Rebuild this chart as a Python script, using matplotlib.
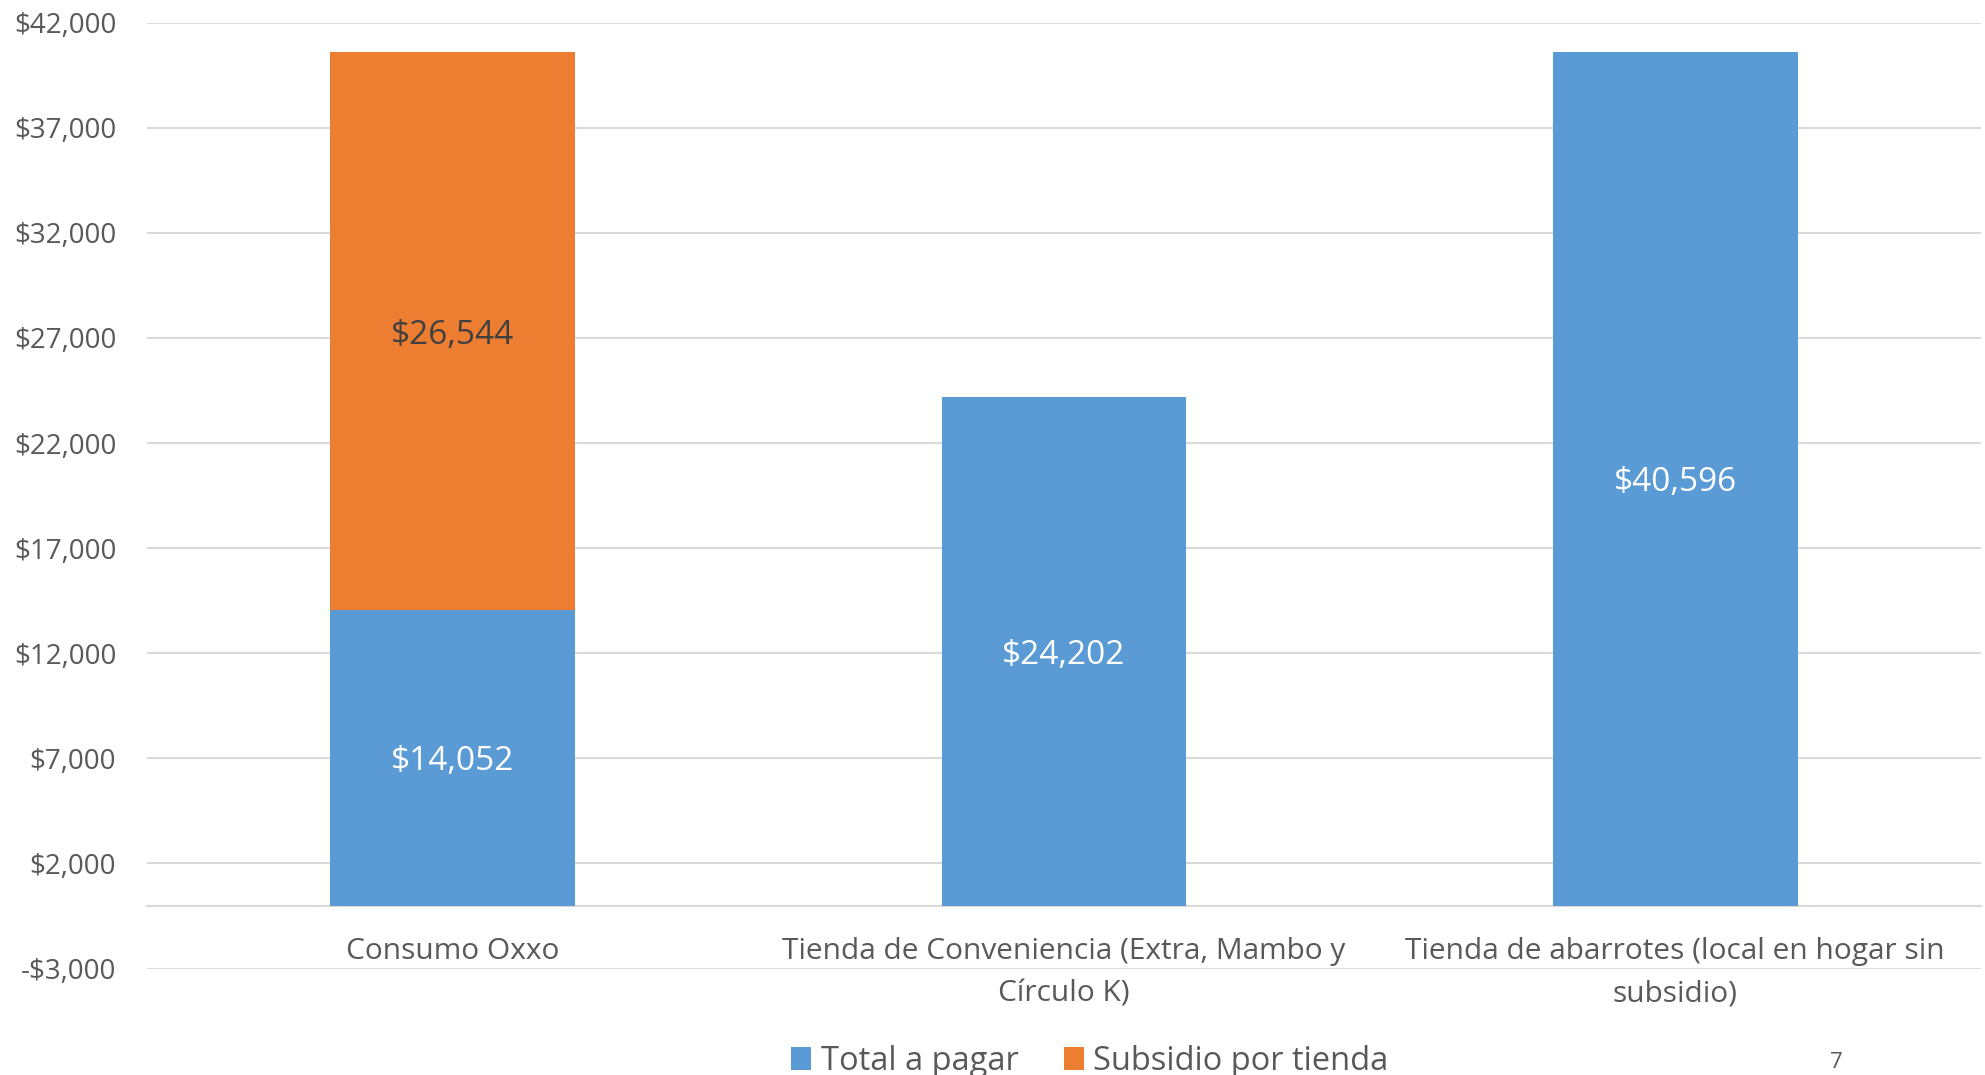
import matplotlib
matplotlib.use('Agg')
import matplotlib.pyplot as plt
from matplotlib.ticker import FuncFormatter
import numpy as np

categories = ["Consumo Oxxo",
              "Tienda de Conveniencia (Extra, Mambo y\nCírculo K)",
              "Tienda de abarrotes (local en hogar sin\nsubsidio)"]
total_a_pagar = [14052, 24202, 40596]
subsidio_por_tienda = [26544, 0, 0]
series_names = ["Total a pagar", "Subsidio por tienda"]
y_ticks = [-3000, 2000, 7000, 12000, 17000, 22000, 27000, 32000, 37000, 42000]

plt.rcParams['font.family'] = ['Open Sans', 'DejaVu Sans']

fig = plt.figure(figsize=(19.85, 10.75), dpi=100)
ax = fig.add_axes([0.0739, 0.0990, 0.9241, 0.8799])

blue = '#5B9BD5'
orange = '#ED7D31'
grey = '#595959'

x = np.arange(len(categories))
b1 = ax.bar(x, total_a_pagar, width=0.4, color=blue, label=series_names[0], zorder=3)
b2 = ax.bar(x, subsidio_por_tienda, bottom=total_a_pagar, width=0.4, color=orange,
            label=series_names[1], zorder=3)

lbl1 = ax.bar_label(b1, labels=[f"${v:,.0f}" for v in total_a_pagar], label_type='center',
                    fontsize=24, color='white')
lbl2 = ax.bar_label(b2, labels=[f"${v:,.0f}" if v else "" for v in subsidio_por_tienda],
                    label_type='center', fontsize=24, color='#404040')
for t in list(lbl1) + list(lbl2):
    t.set_va('center_baseline')

ax.set_xlim(-0.5, 2.5)
ax.set_ylim(-3000, 42000)
ax.set_yticks(y_ticks)


def fmt(v, pos):
    return f"-${abs(v):,.0f}" if v < 0 else f"${v:,.0f}"


ax.yaxis.set_major_formatter(FuncFormatter(fmt))
ax.grid(axis='y', color='#D9D9D9', lw=1.5, zorder=0)
ax.set_axisbelow(True)
for s in ['top', 'right', 'left']:
    ax.spines[s].set_visible(False)
ax.spines['bottom'].set_position(('data', 0))
ax.spines['bottom'].set_color('#D9D9D9')
ax.spines['bottom'].set_linewidth(1.5)
ax.patch.set_alpha(0)

ax.tick_params(axis='both', length=0)
ax.tick_params(axis='y', pad=22, labelsize=20, labelcolor=grey)
ax.set_xticks(x)
ax.set_xticklabels(categories, fontsize=21.5, color=grey, linespacing=1.58)
ax.tick_params(axis='x', pad=23)

fig.legend(handles=[b1, b2], labels=series_names, loc='center', ncol=2,
           bbox_to_anchor=(1090 / 1985, 1 - 1061 / 1075), frameon=False,
           fontsize=23.5, labelcolor=grey, handlelength=0.6, handleheight=0.7,
           handletextpad=0.3, columnspacing=1.4, borderpad=0)

fig.text(1830 / 1985, 0.002, "7", va='bottom', ha='left', fontsize=16, color=grey)

fig.savefig('out.png', dpi=100)
